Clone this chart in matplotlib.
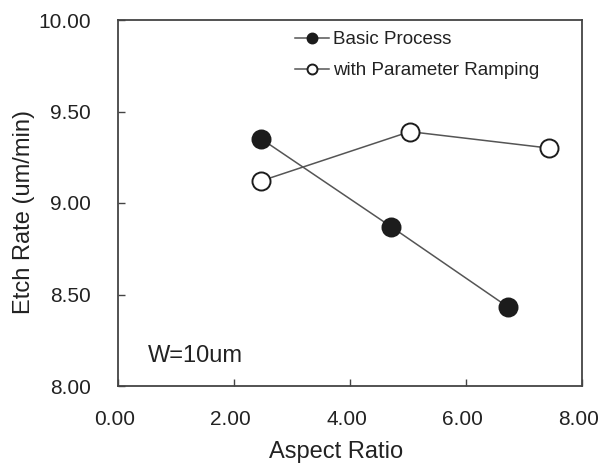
import matplotlib
matplotlib.use("Agg")
import matplotlib.pyplot as plt
from matplotlib.transforms import ScaledTranslation

plt.rcParams['font.family'] = ['Liberation Sans', 'DejaVu Sans']

# Etch rate vs. aspect ratio for the two process variants
basic_ar = [2.48, 4.72, 6.74]
basic_rate = [9.35, 8.87, 8.43]
ramp_ar = [2.47, 5.04, 7.44]
ramp_rate = [9.12, 9.39, 9.30]

x_ticks = [0.0, 2.0, 4.0, 6.0, 8.0]
y_ticks = [8.0, 8.5, 9.0, 9.5, 10.0]

text_color = '#222222'
line_color = '#555555'
mark_color = '#1c1c1c'

fig = plt.figure(figsize=(6.07, 4.68), dpi=100)
ax = fig.add_axes([117.5 / 607, 82 / 468, 464 / 607, 366 / 468])

ax.plot(basic_ar, basic_rate, color=line_color, lw=1.1, marker='o', ms=13,
        mfc=mark_color, mec=mark_color, mew=1.4, label='Basic Process', zorder=3)
ax.plot(ramp_ar, ramp_rate, color=line_color, lw=1.1, marker='o', ms=13,
        mfc='white', mec=mark_color, mew=1.4, label='with Parameter Ramping', zorder=3)

ax.set_xlim(0, 8)
ax.set_ylim(8, 10)
ax.set_xticks(x_ticks)
ax.set_yticks(y_ticks)
ax.set_xticklabels([f'{v:.2f}' for v in x_ticks])
ax.set_yticklabels([f'{v:.2f}' for v in y_ticks])

ax.tick_params(axis='both', direction='in', length=5, width=1.0,
               colors='#444444', labelcolor=text_color, labelsize=15)
ax.tick_params(axis='x', pad=17)
ax.tick_params(axis='y', pad=19)

# nudge the x tick labels slightly to the left
shift = ScaledTranslation(-3 / 100, 0, fig.dpi_scale_trans)
for lbl in ax.get_xticklabels():
    lbl.set_transform(lbl.get_transform() + shift)

for sp in ax.spines.values():
    sp.set_color('#444444')
    sp.set_linewidth(1.3)

ax.set_xlabel('Aspect Ratio', fontsize=17, color=text_color)
ax.set_ylabel('Etch Rate (um/min)', fontsize=17, color=text_color)
ax.xaxis.set_label_coords(0.47, -0.151)
ax.yaxis.set_label_coords(-0.178, 0.475)

ax.text(0.066, 0.082, 'W=10um', transform=ax.transAxes, fontsize=17,
        color=text_color, ha='left', va='center')

leg = ax.legend(loc='upper left', bbox_to_anchor=(0.382, 0.970), frameon=False,
                fontsize=13.5, borderpad=0, borderaxespad=0, handlelength=1.85,
                handletextpad=0.2, labelspacing=0.76, markerscale=0.55)
for t in leg.get_texts():
    t.set_color(text_color)

fig.savefig('out.png', dpi=100)
